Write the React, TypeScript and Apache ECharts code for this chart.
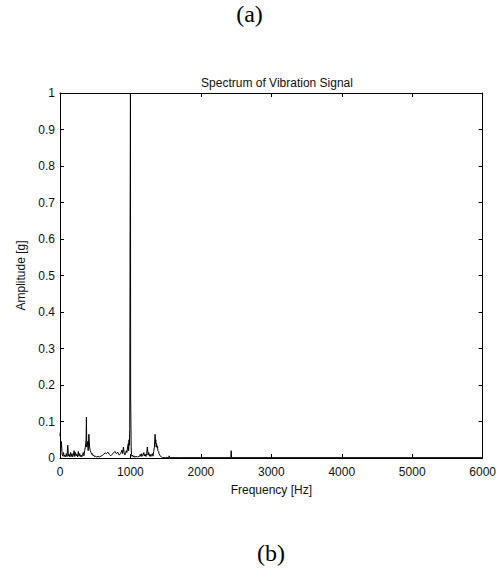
import React, { useEffect, useRef } from "react";
import * as echarts from "echarts";

// Spectrum samples: [frequency Hz, amplitude g]
const spectrum: [number, number][] = [
  [0, 0.06], [5, 0.07], [10, 0.02], [20, 0.045], [30, 0.01], [40, 0.005], [50, 0.015], [60, 0.004],
  [70, 0.008], [80, 0.003], [90, 0.012], [100, 0.004], [110, 0.035], [120, 0.005], [130, 0.01],
  [140, 0.003], [150, 0.015], [160, 0.004], [170, 0.012], [180, 0.003], [190, 0.008], [200, 0.02],
  [210, 0.004], [220, 0.015], [230, 0.006], [240, 0.01], [250, 0.003], [260, 0.018], [270, 0.005],
  [280, 0.012], [290, 0.004], [300, 0.008], [310, 0.003], [320, 0.01], [330, 0.015], [340, 0.006],
  [350, 0.02], [360, 0.03], [370, 0.05], [375, 0.112], [380, 0.03], [390, 0.045], [400, 0.02],
  [410, 0.065], [420, 0.03], [430, 0.02], [440, 0.015], [450, 0.01], [460, 0.012], [470, 0.006],
  [480, 0.008], [490, 0.004], [500, 0.005], [520, 0.003], [540, 0.004], [560, 0.003], [580, 0.005],
  [600, 0.007], [620, 0.01], [640, 0.014], [660, 0.012], [680, 0.016], [700, 0.01], [720, 0.006],
  [740, 0.01], [760, 0.014], [780, 0.018], [800, 0.012], [820, 0.016], [840, 0.008], [860, 0.012],
  [880, 0.022], [890, 0.012], [900, 0.03], [910, 0.015], [920, 0.008], [930, 0.012], [940, 0.02],
  [950, 0.015], [960, 0.03], [970, 0.04], [975, 0.02], [980, 0.05], [985, 0.035], [990, 0.08],
  [995, 0.62], [998, 0.62], [1000, 1.0], [1003, 0.17], [1006, 0.17], [1010, 0.03], [1015, 0.01],
  [1020, 0.005], [1030, 0.008],
  [1040, 0.003], [1050, 0.006], [1060, 0.002], [1070, 0.004], [1080, 0.003], [1090, 0.005],
  [1100, 0.002], [1110, 0.004], [1120, 0.003], [1130, 0.006], [1140, 0.01], [1150, 0.004],
  [1160, 0.012], [1170, 0.005], [1180, 0.008], [1190, 0.015], [1200, 0.006], [1210, 0.01],
  [1220, 0.004], [1230, 0.012], [1240, 0.03], [1250, 0.008], [1260, 0.015], [1270, 0.005],
  [1280, 0.01], [1290, 0.004], [1300, 0.008], [1310, 0.012], [1320, 0.005], [1330, 0.018],
  [1340, 0.03], [1350, 0.065], [1355, 0.04], [1360, 0.05], [1365, 0.03], [1370, 0.04], [1380, 0.028],
  [1385, 0.032], [1390, 0.02], [1400, 0.018], [1405, 0.012], [1410, 0.012], [1420, 0.006],
  [1430, 0.005], [1440, 0.003], [1450, 0.002], [1460, 0.001], [1500, 0.001], [1545, 0.001],
  [1550, 0.006], [1555, 0.001], [1700, 0.001], [2000, 0.001], [2425, 0.001], [2430, 0.02],
  [2435, 0.001], [3000, 0.001], [4000, 0.001], [5000, 0.001], [6000, 0.001],
];

const xTicks = [0, 1000, 2000, 3000, 4000, 5000, 6000];
const yMax = 1;
const yStep = 0.1;

const FONT = "Liberation Sans, Arial, sans-serif";

export default function App() {
  const ref = useRef<HTMLDivElement>(null);
  useEffect(() => {
    if (!ref.current) return;
    const chart = echarts.init(ref.current, undefined, { renderer: "svg" });
    const axisCommon = {
      axisLine: { show: true, onZero: false, lineStyle: { color: "#000", width: 1 } },
      axisTick: { show: true, inside: true, length: 4, lineStyle: { color: "#000" } },
      splitLine: { show: false },
    };
    const plain = (v: number) => String(v);
    chart.setOption({
      animation: false,
      backgroundColor: "#fff",
      title: {
        text: "Spectrum of Vibration Signal",
        left: 272,
        textAlign: "center",
        top: 72,
        textStyle: { fontFamily: FONT, fontSize: 12, fontWeight: "normal", color: "#111" },
      },
      graphic: [
        {
          type: "text",
          left: "center",
          top: 2,
          style: { text: "(a)", font: "24px 'Liberation Serif', 'Times New Roman', serif", fill: "#000" },
        },
        {
          type: "text",
          left: 257,
          top: 541,
          style: { text: "(b)", font: "24px 'Liberation Serif', 'Times New Roman', serif", fill: "#000" },
        },
      ],
      grid: { left: 60, right: 14, top: 93, bottom: 114 },
      xAxis: [
        {
          type: "value",
          min: xTicks[0],
          max: xTicks[xTicks.length - 1],
          interval: 1000,
          position: "bottom",
          name: "Frequency [Hz]",
          nameLocation: "middle",
          nameGap: 26,
          nameTextStyle: { fontFamily: FONT, fontSize: 12, color: "#111" },
          axisLabel: { fontFamily: FONT, fontSize: 12, color: "#111", margin: 8, formatter: plain },
          ...axisCommon,
        },
        {
          type: "value",
          min: xTicks[0],
          max: xTicks[xTicks.length - 1],
          interval: 1000,
          position: "top",
          axisLabel: { show: false },
          ...axisCommon,
        },
      ],
      yAxis: [
        {
          type: "value",
          min: 0,
          max: yMax,
          interval: yStep,
          position: "left",
          name: "Amplitude [g]",
          nameLocation: "middle",
          nameGap: 28,
          nameTextStyle: { fontFamily: FONT, fontSize: 12, color: "#111" },
          axisLabel: { fontFamily: FONT, fontSize: 12, color: "#111", margin: 5, formatter: plain },
          ...axisCommon,
        },
        {
          type: "value",
          min: 0,
          max: yMax,
          interval: yStep,
          position: "right",
          axisLabel: { show: false },
          ...axisCommon,
        },
      ],
      series: [
        {
          type: "line",
          data: spectrum,
          xAxisIndex: 0,
          yAxisIndex: 0,
          showSymbol: false,
          symbol: "none",
          lineStyle: { color: "#000", width: 1 },
          z: 1,
        },
      ],
    });
    return () => chart.dispose();
  }, []);
  return <div ref={ref} style={{ width: 499, height: 572, position: "absolute", left: 0, top: 0 }} />;
}
